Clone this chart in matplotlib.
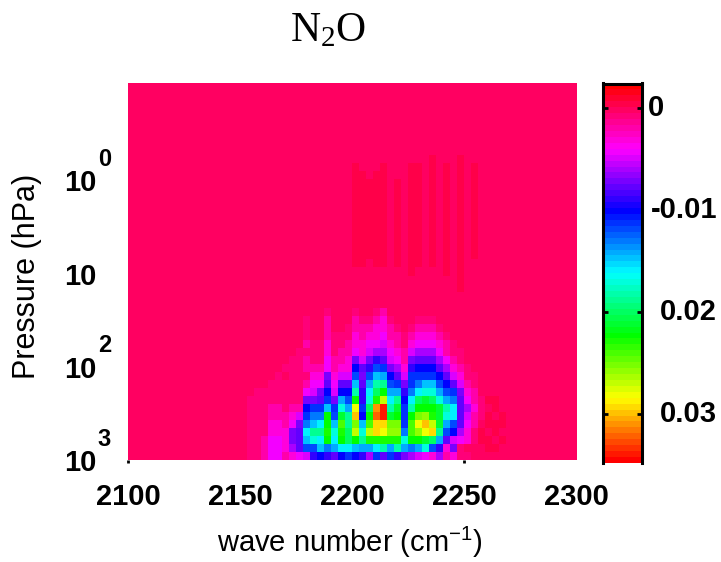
import numpy as np
import matplotlib
matplotlib.use("Agg")
import matplotlib.pyplot as plt
from matplotlib.colors import LinearSegmentedColormap

plt.rcParams['font.family'] = ['Liberation Sans', 'DejaVu Sans']
plt.rcParams['mathtext.default'] = 'regular'

# Values in units of 0.001, each list runs from the bottom row upward.
first_column = 17
lower_columns = [
    [-1, -1, -1, -1, -1, -1, -1, -1],
    [-1, -1, -1, -1, -1, -1, -1, -1, -1],
    [-2, -2, -2, -1, -1, -1, -1, -1, -1],
    [-4, -4, -4, -3, -3, -2, -2, -1, -1, -1],
    [-4, -4, -4, -3, -3, -2, -2, -1, -1, -1, -1],
    [-2, -3, -3, -3, -2, -2, -1, -1, -1, -1, 0, -1],
    [-3, -6, -7, -7, -4, -3, -2, -1, -1, -1, -1, -1, -1],
    [-4, -8, -8, -8, -7, -5, -2, -1, -1, -1, -1, -1, -1, -1],
    [-5, -12, -15, -16, -13, -11, -10, -7, -4, -2, -1, -2, -2, -1, -2, -1, -1, -1],
    [-9, -12, -17, -19, -15, -13, -11, -7, -5, -4, -3, -2, -1, -1, -1],
    [-10, -15, -16, -19, -16, -13, -11, -8, -7, -4, -3, -2, -1, -1, -1],
    [-9, -13, -22, -23, -22, -22, -15, -11, -10, -8, -7, -4, -4, -3, -3, -2, -2, -2, -1],
    [-8, -14, -16, -17, -15, -12, -11, -7, -5, -4, -3, -2, -2, -1, -1, -1],
    [-10, -16, -22, -23, -24, -21, -17, -14, -10, -8, -5, -3, -2, -2, -1, -1],
    [-11, -16, -20, -20, -19, -19, -14, -12, -10, -8, -5, -3, -3, -2, -2, -1, -1],
    [-10, -15, -22, -27, -25, -30, -28, -22, -18, -15, -12, -10, -7, -4, -3, -3, -2, -2, -1],
    [-9, -14, -19, -17, -15, -10, -11, -9, -9, -8, -7, -8, -5, -3, -3, -2, -2, -1],
    [-6, -14, -23, -27, -24, -22, -20, -17, -16, -14, -12, -9, -7, -5, -4, -3, -2, -1],
    [-11, -16, -23, -29, -29, -32, -31, -23, -20, -18, -15, -12, -9, -6, -4, -3, -3, -2, -1],
    [-8, -18, -23, -28, -29, -34, -34, -27, -22, -19, -14, -11, -8, -6, -5, -4, -3, -3, -2],
    [-11, -14, -23, -26, -25, -21, -18, -16, -14, -12, -10, -7, -5, -4, -3, -2, -2, -1],
    [-9, -18, -23, -26, -25, -22, -21, -19, -14, -11, -8, -6, -4, -3, -2, -2, -1],
    [-7, -14, -17, -13, -11, -11, -11, -10, -9, -7, -5, -3, -2, -2, -1, -1],
    [-6, -13, -22, -24, -24, -22, -18, -16, -13, -11, -11, -9, -7, -5, -3, -2, -1],
    [-5, -14, -22, -26, -28, -25, -22, -20, -16, -13, -11, -10, -8, -6, -4, -3, -2, -1],
    [-4, -17, -21, -28, -30, -26, -22, -21, -17, -15, -11, -10, -8, -6, -4, -3, -2, -1],
    [-3, -12, -20, -29, -27, -23, -22, -20, -17, -15, -11, -10, -8, -6, -4, -3, -2, -1],
    [-6, -9, -14, -19, -21, -21, -21, -17, -14, -12, -10, -8, -6, -4, -3, -2, -1],
    [-2, -3, -8, -12, -14, -17, -18, -14, -12, -10, -8, -6, -4, -2, -2, -1],
    [-3, -7, -5, -10, -12, -16, -16, -13, -11, -8, -5, -3, -2, -1, -1],
    [-1, -1, -4, -6, -8, -8, -8, -8, -7, -5, -3, -2, -1, -1],
    [-1, 0, -3, -3, -4, -5, -6, -4, -3, -2, -1, -1],
    [0, 0, -1, -1, -2, -2, -3, -2, -2, -1, -1],
    [0, 0, 0.5, 0.5, 0, -1, -1, -1],
    [0, 0.5, 0.5, 0, 0.5, 0.5, 0, 0.5, 0],
    [0, 0.5, 0, 0.5, 0.5, 0, 0.5, 0.5, 0],
    [0, 0, 0.5, 0, 0.5, 0.5, 0, 0],
]

# Faint slightly positive stripes higher in the atmosphere: column, first row, last row.
faint_columns = [32, 33, 34, 35, 36, 38, 40, 41, 43, 45, 47, 49]
faint_first = [24, 24, 25, 24, 24, 24, 23, 24, 24, 23, 21, 25]
faint_last = [36, 35, 34, 35, 36, 34, 36, 36, 37, 36, 37, 36]

x_tick_values = [2100, 2150, 2200, 2250, 2300]
x_tick_labels = ['2100', '2150', '2200', '2250', '2300']
y_tick_values = [1, 10, 100, 1000]
y_tick_labels = ['10', '10', '10', '10']
y_tick_exponents = ['0', '', '2', '3']
bar_tick_values = [0, -0.01, -0.02, -0.03]
bar_tick_labels = ['0', '-0.01', '0.02', '0.03']
bar_tick_marks = [0, -0.02, -0.03]

n_cols, n_rows = 64, 47
Z = np.zeros((n_rows, n_cols))
for i, col in enumerate(lower_columns):
    Z[:len(col), first_column + i] = np.array(col, dtype=float) * 0.001
for c, a, b in zip(faint_columns, faint_first, faint_last):
    Z[a:b + 1, c] = 0.0005

x_edges = np.linspace(2100, 2300, n_cols + 1)
y_edges = 10 ** np.linspace(3, 3 - n_rows * 8 / 93, n_rows + 1)
vmin, vmax = -0.0348, 0.00245

cmap = LinearSegmentedColormap.from_list(
    'hsv6', ['#ff0000', '#ffff00', '#00ff00', '#00ffff', '#0000ff', '#ff00ff', '#ff0000'], N=64)

W, H = 721, 562
fig = plt.figure(figsize=(W / 100, H / 100), dpi=100)

def box(x0, y0, x1, y1):
    return [x0 / W, 1 - y1 / H, (x1 - x0) / W, (y1 - y0) / H]

ax = fig.add_axes(box(128, 83, 576.5, 460))
ax.pcolormesh(x_edges, y_edges, Z, cmap=cmap, vmin=vmin, vmax=vmax, shading='flat')
ax.set_yscale('log')
ax.set_xlim(2100, 2300)
ax.set_ylim(1000, y_edges[-1])
for s in ax.spines.values():
    s.set_visible(False)
ax.set_xticks(x_tick_values)
ax.set_xticklabels(x_tick_labels, fontsize=21, fontweight='bold')
ax.set_yticks(y_tick_values)
ax.set_yticklabels(y_tick_labels, fontsize=21, fontweight='bold')
ax.minorticks_off()
ax.tick_params(axis='x', length=2.5, width=2, pad=14)
ax.tick_params(axis='y', length=0, pad=23)
for t, v in zip(ax.xaxis.get_major_ticks(), x_tick_values):
    t.tick1line.set_visible(v in (2100, 2250))
for v, e in zip(y_tick_values, y_tick_exponents):
    if e:
        ax.annotate(e, xy=(0, v), xycoords=ax.get_yaxis_transform(),
                    xytext=(-17, 15), textcoords='offset points',
                    fontsize=17, fontweight='bold', ha='center', va='center')
fig.text(350 / W, 1 - 542 / H, 'wave number (cm$^{-1}$)', fontsize=21, ha='center', va='center')
fig.text(27 / W, 1 - 276 / H, 'Pressure (hPa)', fontsize=22, rotation=90, ha='center', va='center')
fig.text(328 / W, 1 - 31 / H, 'N$_{2}$O', fontsize=30, family='Liberation Serif', ha='center', va='center')

cax = fig.add_axes(box(602.5, 83.5, 641.5, 463))
levels = np.linspace(vmin, vmax, 65)
cax.pcolormesh([0, 1], levels, ((levels[:-1] + levels[1:]) / 2)[:, None],
               cmap=cmap, vmin=vmin, vmax=vmax, shading='flat')
cax.set_xticks([])
cax.yaxis.tick_left()
cax.set_yticks(bar_tick_marks)
cax.set_yticklabels([])
cax.tick_params(axis='y', direction='in', length=3.5, width=2, left=True, right=True)
for s in cax.spines.values():
    s.set_linewidth(2.2)
cax.spines['bottom'].set_visible(False)
label_right = [664, 717, 717, 717]
for v, lab, r in zip(bar_tick_values, bar_tick_labels, label_right):
    cax.annotate(lab, xy=(1, v), xycoords=cax.get_yaxis_transform(),
                 xytext=((r - 641.5) * 0.72, 0), textcoords='offset points',
                 fontsize=21, fontweight='bold', ha='right', va='center')

fig.savefig('out.png', dpi=100)
